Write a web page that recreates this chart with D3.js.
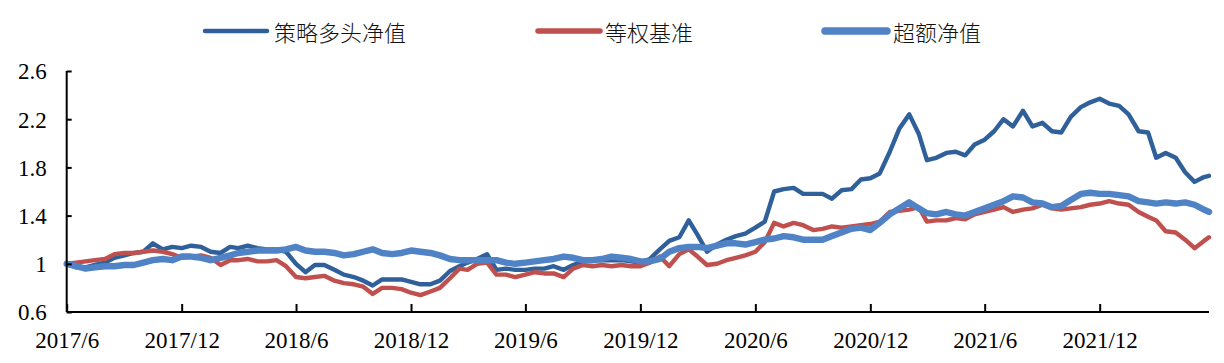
<!DOCTYPE html>
<html><head><meta charset="utf-8">
<script src="https://cdn.jsdelivr.net/npm/d3@7/dist/d3.min.js"></script>
<style>body{margin:0;background:#fff}</style>
</head><body>
<svg id="c" width="1224" height="363"></svg>
<script>
const dates = [
"2017-06-01","2017-06-16","2017-07-01","2017-07-16","2017-08-01","2017-08-16","2017-09-01","2017-09-16","2017-10-01","2017-10-16",
"2017-11-01","2017-11-16","2017-12-01","2017-12-16","2018-01-01","2018-01-16","2018-02-01","2018-02-16","2018-03-01","2018-03-16",
"2018-04-01","2018-04-16","2018-05-01","2018-05-16","2018-06-01","2018-06-16","2018-07-01","2018-07-16","2018-08-01","2018-08-16",
"2018-09-01","2018-09-16","2018-10-01","2018-10-16","2018-11-01","2018-11-16","2018-12-01","2018-12-16","2019-01-01","2019-01-16",
"2019-02-01","2019-02-16","2019-03-01","2019-03-16","2019-04-01","2019-04-16","2019-05-01","2019-05-16","2019-06-01","2019-06-16",
"2019-07-01","2019-07-16","2019-08-01","2019-08-16","2019-09-01","2019-09-16","2019-10-01","2019-10-16","2019-11-01","2019-11-16",
"2019-12-01","2019-12-16","2020-01-01","2020-01-16","2020-02-01","2020-02-16","2020-03-01","2020-03-16","2020-04-01","2020-04-16",
"2020-05-01","2020-05-16","2020-06-01","2020-06-16","2020-07-01","2020-07-16","2020-08-01","2020-08-16","2020-09-01","2020-09-16",
"2020-10-01","2020-10-16","2020-11-01","2020-11-16","2020-12-01","2020-12-16","2021-01-01","2021-01-16","2021-02-01","2021-02-16",
"2021-03-01","2021-03-16","2021-04-01","2021-04-16","2021-05-01","2021-05-16","2021-06-01","2021-06-16","2021-07-01","2021-07-16",
"2021-08-01","2021-08-16","2021-09-01","2021-09-16","2021-10-01","2021-10-16","2021-11-01","2021-11-16","2021-12-01","2021-12-16",
"2022-01-01","2022-01-16","2022-02-01","2022-02-16","2022-03-01","2022-03-16","2022-04-01","2022-04-16","2022-05-01","2022-05-16",
"2022-05-24"];

const strategy = [
1.00,0.97,0.97,0.99,1.01,1.05,1.07,1.09,1.10,1.17,
1.12,1.14,1.13,1.15,1.14,1.10,1.09,1.14,1.13,1.15,
1.13,1.12,1.12,1.10,1.00,0.93,0.99,0.99,0.95,0.91,
0.89,0.86,0.82,0.87,0.87,0.87,0.85,0.83,0.83,0.86,
0.94,0.98,1.01,1.04,1.08,0.95,0.96,0.95,0.95,0.96,
0.96,0.98,0.95,0.99,1.02,1.03,1.03,1.03,1.03,1.02,
1.01,1.04,1.12,1.19,1.22,1.36,1.24,1.10,1.16,1.20,
1.23,1.25,1.30,1.35,1.60,1.62,1.63,1.58,1.58,1.58,
1.54,1.61,1.62,1.70,1.71,1.75,1.93,2.12,2.24,2.08,
1.86,1.88,1.92,1.93,1.90,1.99,2.03,2.10,2.20,2.14,
2.27,2.14,2.17,2.10,2.09,2.22,2.30,2.34,2.37,2.33,
2.31,2.24,2.10,2.09,1.88,1.92,1.88,1.76,1.68,1.72,
1.73];

const benchmark = [
1.00,1.01,1.02,1.03,1.04,1.08,1.09,1.09,1.10,1.11,
1.10,1.08,1.05,1.06,1.07,1.05,0.99,1.03,1.03,1.04,
1.02,1.02,1.03,0.98,0.89,0.88,0.89,0.90,0.86,0.84,
0.83,0.81,0.75,0.80,0.80,0.79,0.76,0.74,0.77,0.80,
0.88,0.96,0.95,1.00,1.01,0.91,0.91,0.89,0.91,0.93,
0.92,0.92,0.89,0.96,0.99,0.98,0.99,0.98,0.99,0.98,
0.98,1.01,1.06,0.98,1.08,1.12,1.06,0.99,1.00,1.03,
1.05,1.07,1.10,1.18,1.34,1.31,1.34,1.32,1.28,1.29,
1.31,1.30,1.31,1.32,1.33,1.35,1.43,1.44,1.45,1.47,
1.35,1.36,1.36,1.38,1.37,1.41,1.43,1.45,1.47,1.43,
1.45,1.46,1.49,1.46,1.45,1.46,1.47,1.49,1.50,1.52,
1.50,1.49,1.43,1.39,1.36,1.27,1.26,1.20,1.13,1.19,
1.22];

const excess = [
1.00,0.98,0.96,0.97,0.98,0.98,0.99,0.99,1.01,1.03,
1.04,1.03,1.06,1.06,1.05,1.03,1.05,1.07,1.09,1.10,
1.11,1.11,1.11,1.12,1.14,1.11,1.10,1.10,1.09,1.07,
1.08,1.10,1.12,1.09,1.08,1.09,1.11,1.10,1.09,1.07,
1.04,1.03,1.03,1.03,1.03,1.03,1.01,1.00,1.01,1.02,
1.03,1.04,1.06,1.05,1.03,1.03,1.04,1.06,1.05,1.04,
1.02,1.02,1.04,1.10,1.13,1.14,1.14,1.13,1.15,1.17,
1.17,1.16,1.18,1.20,1.21,1.23,1.22,1.20,1.20,1.20,
1.23,1.26,1.29,1.30,1.28,1.34,1.41,1.46,1.51,1.46,
1.42,1.41,1.43,1.41,1.40,1.43,1.46,1.49,1.52,1.56,
1.55,1.51,1.50,1.47,1.48,1.53,1.58,1.59,1.58,1.58,
1.57,1.56,1.52,1.51,1.50,1.51,1.50,1.51,1.49,1.45,
1.43];

const seriesNames = ["策略多头净值","等权基准","超额净值"];
const yTicks = [0.6, 1, 1.4, 1.8, 2.2, 2.6];
const yTickLabels = ["0.6","1","1.4","1.8","2.2","2.6"];
const xTickDates = ["2017-06-01","2017-12-01","2018-06-01","2018-12-01","2019-06-01","2019-12-01","2020-06-01","2020-12-01","2021-06-01","2021-12-01"];
const xTickLabels = ["2017/6","2017/12","2018/6","2018/12","2019/6","2019/12","2020/6","2020/12","2021/6","2021/12"];

const colors = ["#30609A","#C0504D","#4F83C6"];
const widths = [4.4, 4.4, 6.4];
const legendWidths = [4.5, 5.5, 7.5];

const parse = d3.timeParse("%Y-%m-%d");
const svg = d3.select("#c");
const L = 66.7, R = 1209, T = 71, B = 312;

const x = d3.scaleTime().domain([parse(dates[0]), parse(dates[dates.length-1])]).range([L, R]);
const y = d3.scaleLinear().domain([0.6, 2.6]).range([B, T]);

const serif = "'Liberation Serif','Times New Roman',serif";

const all = [strategy, benchmark, excess];
const line = d3.line().x((d,i)=>x(parse(dates[i]))).y(d=>y(d));
all.forEach((s,i)=>{
  svg.append("path").datum(s).attr("d", line)
    .attr("fill","none").attr("stroke",colors[i]).attr("stroke-width",widths[i])
    .attr("stroke-linejoin","round").attr("stroke-linecap","round");
});

const yAxis = d3.axisLeft(y).tickValues(yTicks).tickSize(-5).tickPadding(0).tickFormat((d,i)=>yTickLabels[i]);
const gy = svg.append("g").attr("transform",`translate(${L},0)`).call(yAxis);
gy.select(".domain").attr("stroke","#000").attr("stroke-width",2).attr("d",`M0,${T}V${B}`);
gy.selectAll(".tick line").attr("stroke","#000").attr("stroke-width",2);
gy.selectAll(".tick text").attr("x",-20).attr("dy","0.34em")
  .style("font-family",serif).style("font-size","23px").attr("fill","#000");

const xAxis = d3.axisBottom(x).tickValues(xTickDates.map(parse)).tickSize(-8).tickPadding(0)
  .tickFormat((d,i)=>xTickLabels[i]);
const gx = svg.append("g").attr("transform",`translate(0,${B})`).call(xAxis);
gx.select(".domain").attr("stroke","#000").attr("stroke-width",2).attr("d",`M${L},0H${R}`);
gx.selectAll(".tick line").attr("stroke","#000").attr("stroke-width",2);
gx.selectAll(".tick text").attr("y",36).attr("dy",0)
  .style("font-family",serif).style("font-size","23px").attr("fill","#000");

const legendPos = [[205,274],[538,605],[825,893]];
seriesNames.forEach((n,i)=>{
  const [lx, tx] = legendPos[i];
  svg.append("line").attr("x1",lx).attr("x2",lx+62).attr("y1",31).attr("y2",31)
    .attr("stroke",colors[i]).attr("stroke-width",legendWidths[i]).attr("stroke-linecap","round");
  svg.append("text").attr("x",tx).attr("y",31).attr("dominant-baseline","central")
    .style("font-family","'Noto Sans CJK SC',sans-serif").style("font-size","22px").style("font-weight","300")
    .attr("fill","#111").text(n);
});
</script>
</body></html>
